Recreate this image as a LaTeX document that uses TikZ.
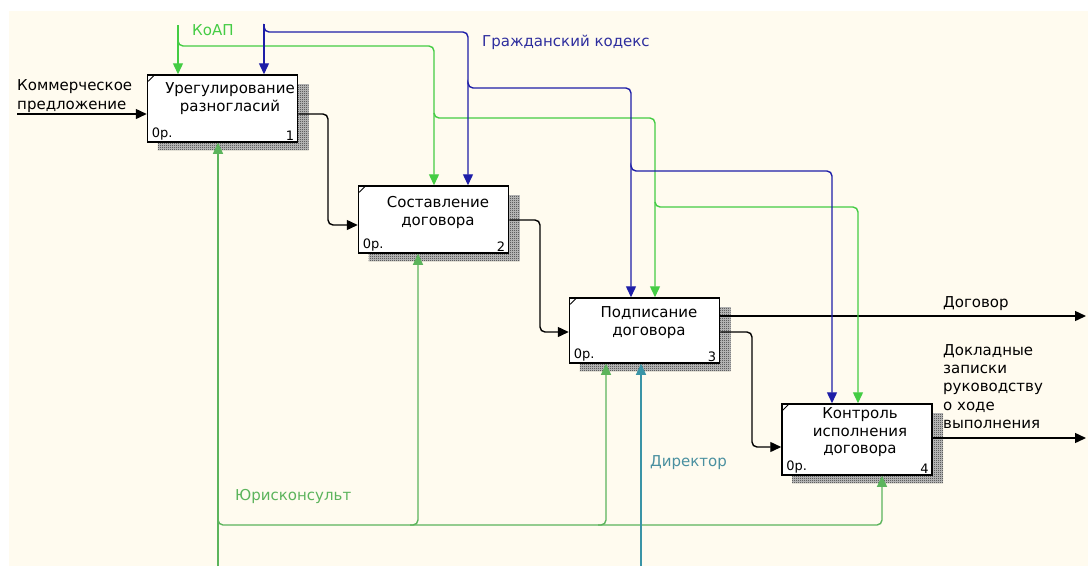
\documentclass[tikz,border=0pt]{standalone}
\usepackage{fontspec}
\setmainfont{DejaVu Sans}
\usetikzlibrary{arrows.meta,patterns}
\pgfdeclarepatternformonly{checker}{\pgfqpoint{0pt}{0pt}}{\pgfqpoint{2pt}{2pt}}{\pgfqpoint{2pt}{2pt}}{%
  \pgfpathrectangle{\pgfqpoint{0pt}{0pt}}{\pgfqpoint{1pt}{1pt}}%
  \pgfpathrectangle{\pgfqpoint{1pt}{1pt}}{\pgfqpoint{1pt}{1pt}}%
  \pgfusepath{fill}}
\definecolor{bg}{HTML}{FFFBEF}
\definecolor{cgreen}{HTML}{44CC44}
\definecolor{cgreenb}{HTML}{5CB45C}
\definecolor{cblue}{HTML}{1E1EA8}
\definecolor{cbluet}{HTML}{2E2E9E}
\definecolor{cteal}{HTML}{3A94A6}
\definecolor{ctealt}{HTML}{4A90A0}
\begin{document}
\begin{tikzpicture}[x=1pt,y=-1pt,
  fbox/.style={draw=black, line width=1.5pt, fill=white, minimum width=150pt, inner sep=0pt},
  shadowfill/.style={pattern=checker, pattern color=black!85},
  conn/.style={line width=1.4pt, rounded corners=5pt, -{Triangle[length=11pt,width=10pt]}},
  arrK/.style={conn, draw=black},
  arrG/.style={conn, draw=cgreen},
  arrGb/.style={conn, draw=cgreenb},
  arrB/.style={conn, draw=cblue},
  arrT/.style={conn, draw=cteal},
  lbl/.style={font=\fontsize{15}{18.2}\selectfont, inner sep=0pt, anchor=west, align=left},
  btxt/.style={font=\fontsize{15}{18}\selectfont, inner sep=0pt, align=center},
  smalltxt/.style={font=\fontsize{13}{13}\selectfont, inner sep=0pt},
  tick/.style={line width=0.8pt}
]
\useasboundingbox (0,0) rectangle (1088,566);
\fill[white] (0,0) rectangle (1088,566);
\fill[bg] (9,11) rectangle (1088,566);

% shadows
\foreach \xa/\ya/\xb/\yb in {157.5/84/308.5/150, 368.5/195/519.5/261, 579.5/307/730.5/371, 792/413/943/483}{
  \fill[black!22] (\xa,\ya) rectangle (\xb,\yb);
  \fill[shadowfill] (\xa,\ya) rectangle (\xb,\yb);
}

% boxes
\node[fbox, minimum height=67pt] (b1) at (222.5,108.5) {};
\node[fbox, minimum height=67pt] (b2) at (433.5,219.5) {};
\node[fbox, minimum height=65pt] (b3) at (644.5,330.5) {};
\node[fbox, minimum height=71pt] (b4) at (857,439.5) {};

\foreach \b in {b1,b2,b3,b4}{
  \draw[tick] ([xshift=1.5pt,yshift=-7pt]\b.north west) -- ([xshift=7pt,yshift=-1.5pt]\b.north west);
}

% box texts
\node[btxt] (b1t) at (230,99) {Урегулирование\\разногласий};
\node[btxt] (b2t) at (438,212) {Составление\\договора};
\node[btxt] (b3t) at (649,322.5) {Подписание\\договора};
\node[btxt, font=\fontsize{15}{17.5}\selectfont] (b4t) at (860,432.5) {Контроль\\исполнения\\договора};

\node[smalltxt, anchor=south west] (b1a) at ([xshift=5pt,yshift=2pt]b1.south west) {0р.};
\node[smalltxt, anchor=south east] (b1n) at ([xshift=-4pt,yshift=2pt]b1.south east) {1};
\node[smalltxt, anchor=south west] (b2a) at ([xshift=5pt,yshift=2pt]b2.south west) {0р.};
\node[smalltxt, anchor=south east] (b2n) at ([xshift=-4pt,yshift=2pt]b2.south east) {2};
\node[smalltxt, anchor=south west] (b3a) at ([xshift=5pt,yshift=2pt]b3.south west) {0р.};
\node[smalltxt, anchor=south east] (b3n) at ([xshift=-4pt,yshift=2pt]b3.south east) {3};
\node[smalltxt, anchor=south west] (b4a) at ([xshift=5pt,yshift=2pt]b4.south west) {0р.};
\node[smalltxt, anchor=south east] (b4n) at ([xshift=-4pt,yshift=2pt]b4.south east) {4};

% free ends
\coordinate (kom) at (17,114);
\coordinate (koap) at (178,25);
\coordinate (gk) at (264,24);
\coordinate (jur) at (218,566);
\coordinate (dir) at (641,566);
\coordinate (dog) at (1086,316);
\coordinate (dokl) at (1086,438);

% input
\draw[arrK] (kom) -- ([yshift=-5.5pt]b1.west);

% flow between boxes
\draw[arrK] ([yshift=-5.5pt]b1.east) -| (328,170) |- ([yshift=-5.5pt]b2.west);
\draw[arrK] ([yshift=-0.5pt]b2.east) -| (540,280) |- ([yshift=-1.5pt]b3.west);
\draw[arrK] ([yshift=-1.5pt]b3.east) -| (752,390) |- ([yshift=-7.5pt]b4.west);

% outputs
\draw[arrK] ([yshift=14.5pt]b3.east) -- (dog);
\draw[arrK] ([yshift=1.5pt]b4.east) -- (dokl);

% controls: KoAP (green)
\draw[arrG] (koap) -- ([xshift=-44.5pt]b1.north);
\draw[arrG] (178,41) |- (300,46) -| ([xshift=0.5pt]b2.north);
\draw[arrG] (434,113) |- (550,118) -| ([xshift=10.5pt]b3.north);
\draw[arrG] (655,202) |- (750,207) -| ([xshift=1pt]b4.north);

% controls: civil code (blue)
\draw[arrB] (gk) -- ([xshift=41.5pt]b1.north);
\draw[arrB] (264,28) |- (350,32) -| ([xshift=34.5pt]b2.north);
\draw[arrB] (468,84) |- (550,88) -| ([xshift=-13.5pt]b3.north);
\draw[arrB] (631,167) |- (700,171) -| ([xshift=-25pt]b4.north);

% mechanisms: lawyer (green)
\draw[arrGb] (jur) -- ([xshift=-4.5pt]b1.south);
\draw[arrGb] (218,521) |- (700,525) -| ([xshift=25pt]b4.south);
\draw[arrGb] (410,525) -| ([xshift=-15.5pt]b2.south);
\draw[arrGb] (598,525) -| ([xshift=-38.5pt]b3.south);

% mechanism: director (teal)
\draw[arrT] (dir) -- ([xshift=-3.5pt]b3.south);

% labels
\node[lbl] (lkom) at (17,96) {Коммерческое\\предложение};
\node[lbl, text=cgreen] (lkoap) at (192,30) {КоАП};
\node[lbl, text=cbluet] (lgk) at (482,42) {Гражданский кодекс};
\node[lbl] (ldog) at (943,304) {Договор};
\node[lbl] (ldokl) at (943,386.5) {Докладные\\записки\\руководству\\о ходе\\выполнения};
\node[lbl, text=cgreenb] (ljur) at (235,496) {Юрисконсульт};
\node[lbl, text=ctealt] (ldir) at (650,463) {Директор};
\end{tikzpicture}
\end{document}
